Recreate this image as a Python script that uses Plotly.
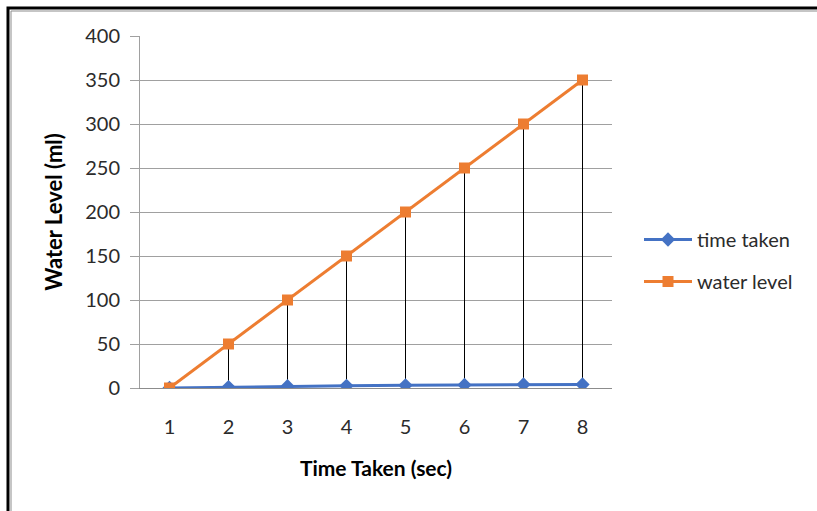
import plotly.graph_objects as go

# Chart data
time_points = [1, 2, 3, 4, 5, 6, 7, 8]
time_taken = [0, 1, 2, 2.5, 3, 3.5, 4, 4]
water_level = [0, 50, 100, 150, 200, 250, 300, 350]
y_ticks = [0, 50, 100, 150, 200, 250, 300, 350, 400]

FONT = "Lato, Carlito, Calibri, 'Open Sans', sans-serif"
BLUE = "#4472C4"
ORANGE = "#ED7D31"
TEXT = "#2b2b2b"

W, H = 817, 511
L, R, T, B = 140, 205, 36, 123


def px_x(x):
    return (x - L) / (W - L - R)


def px_y(y):
    return (H - B - y) / (H - T - B)


# Drop lines from each series point down to the category axis
drop_x, drop_y = [], []
for x, top in zip(time_points, water_level):
    drop_x += [x, x, None]
    drop_y += [0, top, None]

fig = go.Figure()
fig.add_trace(go.Scatter(
    x=drop_x, y=drop_y, mode="lines",
    line=dict(color="#000000", width=1),
    showlegend=False, hoverinfo="skip",
))
fig.add_trace(go.Scatter(
    x=time_points, y=time_taken, name="time taken",
    mode="lines+markers", legendgroup="a",
    line=dict(color=BLUE, width=3),
    marker=dict(symbol="diamond", size=11, color=BLUE),
))
fig.add_trace(go.Scatter(
    x=time_points, y=water_level, name="water level",
    mode="lines+markers", legendgroup="b",
    line=dict(color=ORANGE, width=3),
    marker=dict(symbol="square", size=11, color=ORANGE),
))

# Double frame around the whole chart
fig.add_shape(type="rect", xref="paper", yref="paper",
              x0=px_x(8), y0=px_y(560), x1=px_x(860), y1=px_y(8),
              line=dict(color="#000000", width=3), layer="above")
fig.add_shape(type="rect", xref="paper", yref="paper",
              x0=px_x(11), y0=px_y(560), x1=px_x(860), y1=px_y(11),
              line=dict(color="#8c8c8c", width=1), layer="above")

fig.update_layout(
    width=W, height=H,
    margin=dict(l=L, r=R, t=T, b=B),
    paper_bgcolor="white", plot_bgcolor="white",
    font=dict(family=FONT, size=20, color=TEXT),
    showlegend=True,
    legend=dict(
        x=px_x(639), y=px_y(220), xanchor="left", yanchor="top",
        font=dict(family=FONT, size=20, color=TEXT),
        itemwidth=48,
        tracegroupgap=13, bgcolor="rgba(0,0,0,0)",
    ),
    xaxis=dict(
        range=[0.5, 8.5], tickmode="array", tickvals=time_points,
        ticktext=[str(t) for t in time_points],
        showgrid=False, zeroline=False,
        showline=True, linecolor="#8c8c8c", linewidth=1,
        ticks="", ticklabelstandoff=21,
        tickfont=dict(family=FONT, size=20, color=TEXT),
        title=dict(text="<b>Time Taken (sec)</b>", standoff=24,
                   font=dict(family=FONT, size=21, color="#000000")),
    ),
    yaxis=dict(
        range=[0, 400], tickmode="array", tickvals=y_ticks,
        showgrid=True, gridcolor="#a0a0a0", gridwidth=1,
        zeroline=False,
        showline=True, linecolor="#a0a0a0", linewidth=1,
        ticks="outside", ticklen=9, tickcolor="#a0a0a0",
        ticklabelstandoff=6,
        tickfont=dict(family=FONT, size=20, color=TEXT),
        title=dict(text="<b>Water Level (ml)</b>", standoff=16,
                   font=dict(family=FONT, size=22, color="#000000")),
    ),
)

fig.write_html("out.html")
